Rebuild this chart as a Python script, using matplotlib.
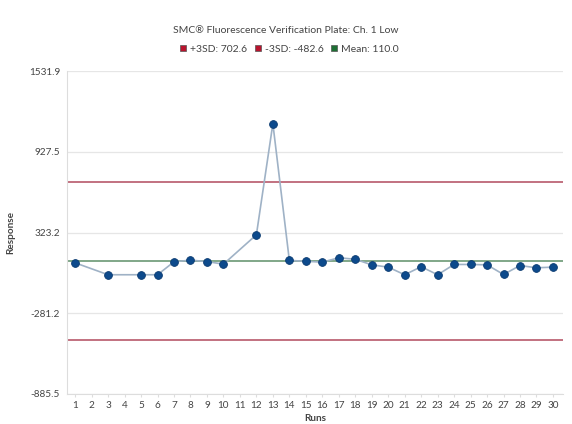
"""Control chart: SMC Fluorescence Verification Plate, Ch. 1 Low."""

import matplotlib

matplotlib.use("Agg")
import matplotlib.pyplot as plt
from matplotlib.lines import Line2D
import numpy as np

plt.rcParams["font.family"] = ["Lato", "DejaVu Sans"]

RUNS = list(range(1, 31))
# None = run with no reading (line joins neighbours)
RESPONSE = [96, None, 7, None, 7, 7, 104, 116, 106, 86, None, 306, 1138, 114, 108,
            101, 134, 123, 81, 64, 7, 67, 7, 84, 84, 81, 9, 76, 59, 64]
MEAN = 110.0
PLUS_3SD = 702.6
MINUS_3SD = -482.6
Y_TICKS = [-885.5, -281.2, 323.2, 927.5, 1531.9]

TITLE = "SMC\u00ae Fluorescence Verification Plate: Ch. 1 Low"

RED = "#b24a5e"
GREEN = "#5e8f68"
LINE = "#9fb2c6"
MARKER = "#0d4a8c"
GRID = "#e6e6e6"
TEXT = "#444444"


def main() -> int:
    fig = plt.figure(figsize=(5.72, 4.24), dpi=100)
    ax = fig.add_axes([0.117, 0.0708, 0.867, 0.7617])

    x = np.array([r for r, v in zip(RUNS, RESPONSE) if v is not None])
    y = np.array([v for v in RESPONSE if v is not None])

    ax.axhline(PLUS_3SD, color=RED, linewidth=1.1, zorder=2)
    ax.axhline(MINUS_3SD, color=RED, linewidth=1.1, zorder=2)
    ax.axhline(MEAN, color=GREEN, linewidth=1.1, zorder=2)
    ax.plot(x, y, color=LINE, linewidth=1.2, zorder=3)
    ax.plot(x, y, linestyle="none", marker="o", markersize=5.6,
            markerfacecolor=MARKER, markeredgecolor="#0a3a70", markeredgewidth=0.6, zorder=4)

    ax.set_xlim(0.5, 30.6)
    ax.set_ylim(Y_TICKS[0], Y_TICKS[-1])
    ax.set_xticks(RUNS)
    ax.set_yticks(Y_TICKS)
    ax.set_yticklabels([f"{t:.1f}" for t in Y_TICKS])
    ax.yaxis.grid(True, color=GRID, linewidth=0.9)
    ax.set_axisbelow(True)
    ax.tick_params(axis="both", labelsize=7.2, colors=TEXT, length=0, pad=5)
    ax.tick_params(axis="x", length=2, color="#dddddd", pad=3)
    for side in ("top", "right"):
        ax.spines[side].set_visible(False)
    for side in ("left", "bottom"):
        ax.spines[side].set_color("#dddddd")
        ax.spines[side].set_linewidth(0.8)

    ax.set_xlabel("Runs", fontsize=7.2, fontweight="bold", color=TEXT, labelpad=3)
    ax.set_ylabel("Response", fontsize=7.2, fontweight="bold", color=TEXT, labelpad=10)

    fig.text(0.5, 0.928, TITLE, ha="center", va="center", fontsize=7.5, color=TEXT)
    handles = [
        Line2D([], [], linestyle="none", marker="s", markersize=5, markerfacecolor="#b8142e",
               markeredgecolor="#555555", markeredgewidth=0.5),
        Line2D([], [], linestyle="none", marker="s", markersize=5, markerfacecolor="#b8142e",
               markeredgecolor="#555555", markeredgewidth=0.5),
        Line2D([], [], linestyle="none", marker="s", markersize=5, markerfacecolor="#1e7034",
               markeredgecolor="#555555", markeredgewidth=0.5),
    ]
    labels = [f"+3SD: {PLUS_3SD:.1f}", f"-3SD: {MINUS_3SD:.1f}", f"Mean: {MEAN:.1f}"]
    fig.legend(handles, labels, loc="center", bbox_to_anchor=(0.505, 0.884), ncol=3,
               frameon=False, fontsize=7.5, handlelength=0.8, handletextpad=0.3,
               columnspacing=0.6, labelcolor=TEXT)

    fig.savefig("out.png", dpi=100)
    plt.close(fig)
    return 0


if __name__ == "__main__":
    raise SystemExit(main())
